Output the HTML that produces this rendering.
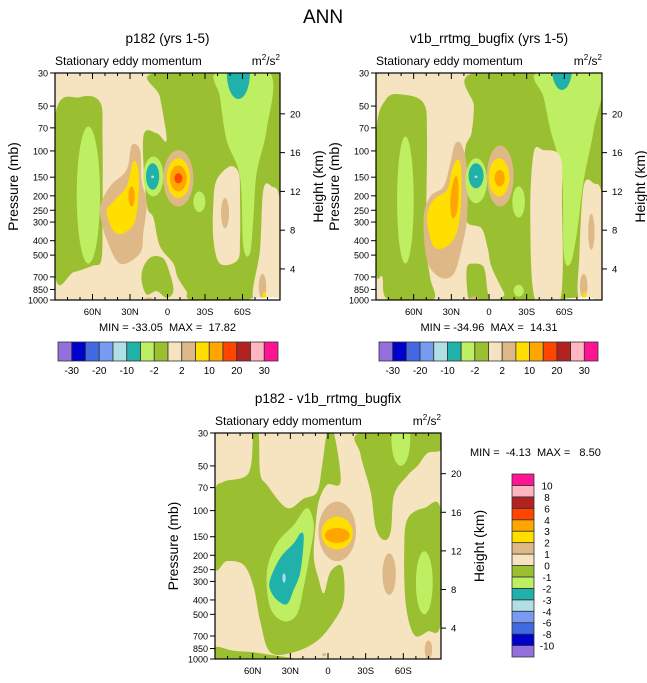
<!DOCTYPE html>
<html><head><meta charset="utf-8"><style>
html,body{margin:0;padding:0;background:#fff;}
svg{display:block;font-family:"Liberation Sans",sans-serif;}
</style></head><body>
<svg id="fig" xmlns="http://www.w3.org/2000/svg" width="647" height="683" viewBox="0 0 647 683">
<rect width="647" height="683" fill="#fff"/>
<text x="323" y="23" font-size="19" text-anchor="middle">ANN</text>
</svg>
<script>
// ---------- data ----------
const latTicks = [60, 30, 0, -30, -60];
const latTickLabels = ["60N", "30N", "0", "30S", "60S"];
const pressureTicks = [30, 50, 70, 100, 150, 200, 250, 300, 400, 500, 700, 850, 1000];
const heightTicks = [4, 8, 12, 16, 20];
const colorNames = ["pu","mb","rb","cb","lb","te","lg","g","w","t","y","o","or","fb","pk","dp"];
const colorHex = ["#9370DB","#0000CD","#4169E1","#789BF2","#B0E0E6","#20B2AA","#BEEF62","#9AC032","#F5E4BF","#DEB887","#FFDF00","#FFA500","#FF4500","#B22222","#FFB6C1","#FF1493"];
const topBarLabels = ["-30","-20","-10","-2","2","10","20","30"];
const diffBarLabels = ["10","8","6","4","3","2","1","0","-1","-2","-3","-4","-6","-8","-10"];
const minMax1 = ["-33.05", "17.82"];
const minMax2 = ["-34.96", "14.31"];
const minMax3 = ["-4.13", "8.50"];

const field1 = [
 {c:"g", pts:[[90,59],[70,43.6],[54,47],[52,80],[52,300],[53,541],[60,590],[75,650],[90,668]]},
 {c:"lg", e:[63.3,9.3,68.6,570]},
 {c:"g", pts:[[10,30],[-90,30],[-90,1000],[-63.3,1000],[-20,1000],[-15,870],[-8,700],[-4.7,570],[6,436],[11.3,280],[16.7,224],[19.3,80],[8.7,76],[0.7,84.6],[6,43.6]]},
 {c:"g", pts:[[19.3,601],[12.6,513],[3.3,527],[-2,668],[-4.7,871],[0.7,968],[8.7,871],[16.7,918],[20.7,743]]},
 {c:"t", pts:[[54,236],[46,173],[32.7,134],[28.7,92],[22,98.7],[20.7,157],[16.7,224],[19.3,349],[22,486],[38,570],[48.7,391],[52.7,296]]},
 {c:"y", pts:[[48.7,257],[42,213],[32.7,173],[27.3,118],[23.3,134],[23.3,202],[27.3,313],[40.7,359]]},
 {c:"o", e:[28.7,2.5,173,236]},
 {c:"lg", pts:[[-39.3,30],[-82,30],[-79.3,72],[-71.3,141],[-68.7,280],[-66,486],[-60.7,436],[-58,149],[-47.3,84.6],[-42,43.6]]},
 {c:"w", pts:[[-39.3,157],[-50,127],[-57,141],[-58,202],[-58,391],[-56,541],[-42,570],[-36.7,391],[-36.7,224]]},
 {c:"t", e:[-46,3.2,207,330]},
 {c:"te", e:[-56.7,9.3,20,44.8]},
 {c:"w", pts:[[-76.7,182],[-83.3,173],[-90,224],[-90,1000],[-68.7,1000],[-74,461]]},
 {c:"lg", e:[11.3,8,109,202]},
 {c:"te", e:[11.9,5.3,121,182]},
 {c:"lb", e:[11.9,1.2,146,152]},
 {c:"t", e:[-8.7,12,98.7,236]},
 {c:"y", e:[-8.7,9.3,112,207]},
 {c:"o", e:[-8.7,6.7,125,187]},
 {c:"or", e:[-8.7,3.2,141,165]},
 {c:"lg", e:[-25.5,4.8,187,257]},
 {c:"t", e:[15,4,960,1060]},
 {c:"t", e:[-76,3,668,990]},
 {c:"y", e:[-77.5,1.5,880,1000]},
 {c:"wh", pts:[[-68,975],[-86,960],[-88,1000],[-68,1000]]}
];
const field2 = [
 {c:"g", pts:[[90,80],[82,45],[68,42],[52,48],[49.4,80],[50,400],[47,700],[45,1000],[80,1000],[85,700],[90,600]]},
 {c:"lg", e:[66.6,6.6,80,570]},
 {c:"g", pts:[[12.2,30],[-90,30],[-90,1000],[-14.3,1000],[-12,900],[-2,600],[1,450],[6,330],[17.5,300],[20,202],[19,98],[14,76],[12,50]]},
 {c:"g", pts:[[17.5,601],[12.2,570],[4.2,601],[1.6,826],[1.6,1000],[14.9,1000],[17.5,826]]},
 {c:"t", pts:[[52,280],[46.7,202],[36.1,173],[30.8,121],[26.8,89],[21.5,92],[17.5,134],[17.5,280],[21.5,436],[28.1,668],[38.8,705],[49.4,541]]},
 {c:"y", pts:[[49.4,280],[44.1,213],[33.4,182],[29.5,134],[25.5,115],[22.3,127],[22.3,224],[25.5,349],[33.4,436],[44.1,436]]},
 {c:"o", pts:[[30.8,213],[28.1,157],[25.5,149],[24.2,182],[25.5,257],[29.5,280]]},
 {c:"lg", pts:[[-38.2,30],[-88.7,30],[-83.4,72],[-75.4,157],[-70.1,349],[-64.8,570],[-59.5,486],[-58.1,149],[-48.9,72],[-43.5,43.6]]},
 {c:"w", pts:[[-35.6,103],[-43.5,98.7],[-56.8,109],[-58.1,202],[-56.8,1000],[-36.9,1000],[-32.9,280]]},
 {c:"te", e:[-58.1,8,20,39]},
 {c:"w", pts:[[-75.4,173],[-83.4,165],[-90,210],[-90,1000],[-72,1000],[-72,500]]},
 {c:"t", e:[-81.5,2.5,264,461]},
 {c:"lg", e:[10.2,8.6,112,224]},
 {c:"te", e:[10.3,6,121,178]},
 {c:"lb", e:[10.3,1.2,146,152]},
 {c:"t", e:[-9,10.6,92,236]},
 {c:"y", e:[-8,8.2,112,202]},
 {c:"o", e:[-8.5,4,134,173]},
 {c:"lg", e:[-23.6,5,173,280]},
 {c:"lg", e:[-23.6,4,790,950]},
 {c:"t", e:[12,4,950,1060]},
 {c:"t", e:[-75.4,3,668,968]},
 {c:"y", e:[-76,1.5,880,980]},
 {c:"wh", pts:[[-62,975],[-80,960],[-82,1000],[-62,1000]]}
];
const field3 = [
 {c:"g", pts:[[90,78],[83.3,64],[63.3,56],[59.3,30],[55.3,30],[54,56],[48.7,67],[32.7,96],[19.3,83],[8.7,75],[4.7,50],[0.7,30],[-4.7,30],[-10,64],[0.7,67],[7.4,87],[10,131],[11.3,208],[7.4,290],[3.3,360],[-2,258],[-11.3,239],[-12.7,400],[-4.7,557],[8.7,755],[27.3,900],[46,900],[54,557],[59.3,325],[67.3,232],[80.7,219],[90,239]]},
 {c:"g", pts:[[90,830],[75,880],[60,900],[45,940],[30,1000],[90,1000]]},
 {c:"lg", pts:[[48.7,258],[40.7,166],[27.3,125],[16.7,96],[11.3,125],[14,188],[19.3,325],[24.7,499],[35.3,557],[46,449]]},
 {c:"te", pts:[[46,290],[38,208],[27.3,166],[22,142],[19.3,153],[22,258],[27.3,342],[32.7,427],[40.7,400],[46,342]]},
 {c:"lb", e:[35,1.3,265,306]},
 {c:"g", pts:[[-26,30],[-90,30],[-90,39],[-79.3,41],[-71.3,50],[-63.3,58],[-52.7,78],[-50,138],[-44.7,158],[-38,131],[-34,75],[-26,42]]},
 {c:"lg", e:[-58,7.5,22,50]},
 {c:"g", pts:[[-63.3,114],[-76.7,96],[-90,101],[-90,557],[-79.3,652],[-68.7,689],[-62,427],[-60.7,188]]},
 {c:"lg", e:[-76.7,6.7,188,499]},
 {c:"t", e:[-48.7,5.3,194,370]},
 {c:"t", e:[-7.3,15,87,219]},
 {c:"y", e:[-7.3,12.5,110,183]},
 {c:"o", e:[-7.3,10,131,165]},
 {c:"t", e:[3,1.5,910,960]},
 {c:"t", e:[-80,3,750,1000]}
];

// ---------- drawing ----------
const svg = document.getElementById('fig');
const NS = 'http://www.w3.org/2000/svg';
function mk(tag, attrs, parent){
  const el = document.createElementNS(NS, tag);
  for (const k in attrs) el.setAttribute(k, attrs[k]);
  (parent||svg).appendChild(el);
  return el;
}
function colorOf(c){ return c === 'wh' ? '#fff' : colorHex[colorNames.indexOf(c)]; }
function smoothPath(p){
  const n = p.length; let d = 'M' + p[0][0].toFixed(1) + ',' + p[0][1].toFixed(1);
  for (let i = 0; i < n; i++){
    const p0 = p[(i-1+n)%n], p1 = p[i], p2 = p[(i+1)%n], p3 = p[(i+2)%n];
    const c1 = [p1[0]+(p2[0]-p0[0])/6, p1[1]+(p2[1]-p0[1])/6];
    const c2 = [p2[0]-(p3[0]-p1[0])/6, p2[1]-(p3[1]-p1[1])/6];
    d += 'C' + c1[0].toFixed(1)+','+c1[1].toFixed(1)+' '+c2[0].toFixed(1)+','+c2[1].toFixed(1)+' '+p2[0].toFixed(1)+','+p2[1].toFixed(1);
  }
  return d + 'Z';
}
const NB = '\u00a0';

function drawPanel(id, x0, y0, w, h, field, title, mm){
  const xOf = lat => x0 + (90 - lat) / 180 * w;
  const yOf = p => y0 + h * Math.log(p / 30) / Math.log(1000 / 30);
  const yOfZ = z => y0 + h * (1.034 - 0.0427 * z);
  const g = mk('g', {});
  
  
  const clip = mk('clipPath', {id: id + '-clip'}, g);
  mk('rect', {x: x0, y: y0, width: w, height: h}, clip);
  const plot = mk('g', {'clip-path': 'url(#' + id + '-clip)'}, g);
  
  
  mk('rect', {x: x0, y: y0, width: w, height: h, fill: colorHex[8]}, plot);
  field.forEach(s => {
    let el;
    if (s.pts){
      el = mk('path', {d: smoothPath(s.pts.map(q => [xOf(q[0]), yOf(q[1])])), fill: colorOf(s.c)}, plot);
    } else {
      const [lat, hw, pt, pb] = s.e;
      const yt = yOf(pt), yb = yOf(pb);
      el = mk('ellipse', {cx: xOf(lat), cy: (yt+yb)/2, rx: hw/180*w, ry: (yb-yt)/2, fill: colorOf(s.c)}, plot);
    }
    
    
  });
  const frame = mk('rect', {x: x0, y: y0, width: w, height: h, fill: 'none', stroke: '#000', 'stroke-width': 1.2}, g);
  
  
  for (let lat = 80; lat >= -80; lat -= 10){
    const major = lat % 30 === 0;
    const x = xOf(lat), len = major ? 6 : 3;
    mk('line', {x1: x, x2: x, y1: y0 + h, y2: y0 + h - len, stroke: '#000', 'stroke-width': 1}, g);
    mk('line', {x1: x, x2: x, y1: y0, y2: y0 + len, stroke: '#000', 'stroke-width': 1}, g);
  }
  latTicks.forEach((lat, i) => {
    const t = mk('text', {x: xOf(lat), y: y0 + h + 15, 'font-size': 9.5, 'text-anchor': 'middle'}, g);
    t.textContent = latTickLabels[i];
    
    
  });
  pressureTicks.forEach(p => {
    const y = yOf(p);
    mk('line', {x1: x0 - 5, x2: x0, y1: y, y2: y, stroke: '#000', 'stroke-width': 1}, g);
    const t = mk('text', {x: x0 - 7, y: y + 3.5, 'font-size': 9, 'text-anchor': 'end'}, g);
    t.textContent = p;
    
    
  });
  heightTicks.forEach(z => {
    const y = yOfZ(z);
    mk('line', {x1: x0 + w, x2: x0 + w + 5, y1: y, y2: y, stroke: '#000', 'stroke-width': 1}, g);
    const t = mk('text', {x: x0 + w + 10, y: y + 3.5, 'font-size': 9.5}, g);
    t.textContent = z;
    
    
  });
  const yt = mk('text', {transform: 'translate(' + (x0 - 37) + ',' + (y0 + h/2) + ') rotate(-90)', 'font-size': 14, 'text-anchor': 'middle'}, g);
  yt.textContent = 'Pressure (mb)';
  
  
  const ht = mk('text', {transform: 'translate(' + (x0 + w + 43) + ',' + (y0 + h/2) + ') rotate(-90)', 'font-size': 14, 'text-anchor': 'middle'}, g);
  ht.textContent = 'Height (km)';
  
  
  const tt = mk('text', {x: x0 + w/2, y: y0 - 30, 'font-size': 13.5, 'text-anchor': 'middle'}, g);
  tt.textContent = title;
  
  
  const st = mk('text', {x: x0, y: y0 - 8, 'font-size': 12}, g);
  st.textContent = 'Stationary eddy momentum';
  
  
  const un = mk('text', {x: x0 + w, y: y0 - 8, 'font-size': 12, 'text-anchor': 'end'}, g);
  un.innerHTML = 'm<tspan dy="-5" font-size="8">2</tspan><tspan dy="5">/s</tspan><tspan dy="-5" font-size="8">2</tspan>';
  
  
  if (mm){
    const m = mk('text', {x: x0 + w/2, y: y0 + h + 31, 'font-size': 11, 'text-anchor': 'middle'}, g);
    m.textContent = 'MIN = ' + mm[0] + NB + NB + 'MAX = ' + NB + mm[1];
    
    
  }
}

function drawHBar(id, x0, y0, w, h){
  const g = mk('g', {});
  
  
  const bw = w / colorHex.length;
  colorHex.forEach((c, i) => {
    const r = mk('rect', {x: x0 + i*bw, y: y0, width: bw, height: h, fill: c, stroke: '#333', 'stroke-width': 0.8}, g);
    
    
  });
  topBarLabels.forEach((lab, i) => {
    const t = mk('text', {x: x0 + (2*i + 1)*bw, y: y0 + h + 13, 'font-size': 10, 'text-anchor': 'middle'}, g);
    t.textContent = lab;
    
    
  });
}
function drawVBar(id, x0, y0, w, h){
  const g = mk('g', {});
  
  
  const n = colorHex.length, bh = h / n;
  colorHex.forEach((c, i) => {
    const r = mk('rect', {x: x0, y: y0 + (n-1-i)*bh, width: w, height: bh, fill: c, stroke: '#333', 'stroke-width': 0.8}, g);
    
    
  });
  diffBarLabels.forEach((lab, i) => {
    const t = mk('text', {x: x0 + w + 13, y: y0 + (i+1)*bh + 4, 'font-size': 10, 'text-anchor': 'middle'}, g);
    t.textContent = lab;
    
    
  });
}

drawPanel('p182', 55, 73, 225, 227, field1, 'p182 (yrs 1-5)', minMax1);
drawPanel('v1b', 376, 73, 226, 227, field2, 'v1b_rrtmg_bugfix (yrs 1-5)', minMax2);
drawPanel('diff', 215, 433, 226, 226, field3, 'p182 - v1b_rrtmg_bugfix', null);
drawHBar('colorbar-p182', 58, 342, 220, 19);
drawHBar('colorbar-v1b', 379, 342, 219, 19);
drawVBar('colorbar-diff', 512, 474, 22, 183);
const dm = mk('text', {x: 470, y: 456, 'font-size': 11});
dm.textContent = 'MIN = ' + NB + minMax3[0] + NB + NB + 'MAX = ' + NB + NB + minMax3[1];


</script>
</body></html>
